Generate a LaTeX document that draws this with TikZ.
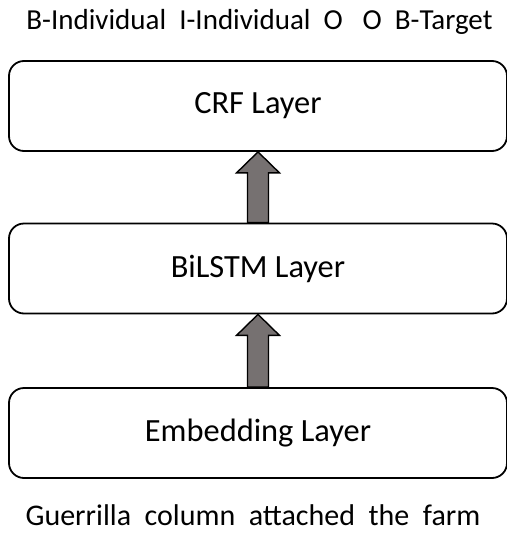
\documentclass[tikz,border=0pt]{standalone}
\usepackage{fontspec}
\setmainfont{Carlito}
\usetikzlibrary{calc}

\definecolor{arrowgray}{RGB}{118,113,113}

\tikzset{
    layer/.style={draw, line width=0.9pt, rounded corners=7.5pt,
        minimum width=249pt, minimum height=45pt, font=\fontsize{16.2}{18}\selectfont},
    word/.style={font=\fontsize{14.5}{16}\selectfont},
    fatarrow/.style={draw, line width=0.7pt, fill=arrowgray}
}

\begin{document}
\begin{tikzpicture}[x=0.5pt, y=-0.5pt]

\useasboundingbox (0,0) rectangle (507,536);

\node[word] (tags) at (259.5,22) {B-Individual\ \ I-Individual\ \ O\ \ \ O\ \ B-Target};

\node[layer] (crf)    at (258,106)   {CRF Layer};
\node[layer] (bilstm) at (258,268.5) {BiLSTM Layer};
\node[layer] (emb)    at (258,433)   {Embedding Layer};

\node[word, font=\fontsize{15}{17}\selectfont] (words) at (253,515) {Guerrilla\ \ column\ \ attached\ \ the\ \ farm};

% block arrows between the layers
\foreach \lo/\hi in {emb/bilstm, bilstm/crf}
    \draw[fatarrow] ($(\lo.north)+(-10.5,0)$) -- ($(\hi.south)+(-10.5,21)$)
        -- ($(\hi.south)+(-21.5,21)$) -- (\hi.south) -- ($(\hi.south)+(21.5,21)$)
        -- ($(\hi.south)+(10.5,21)$) -- ($(\lo.north)+(10.5,0)$) -- cycle;

\end{tikzpicture}
\end{document}
